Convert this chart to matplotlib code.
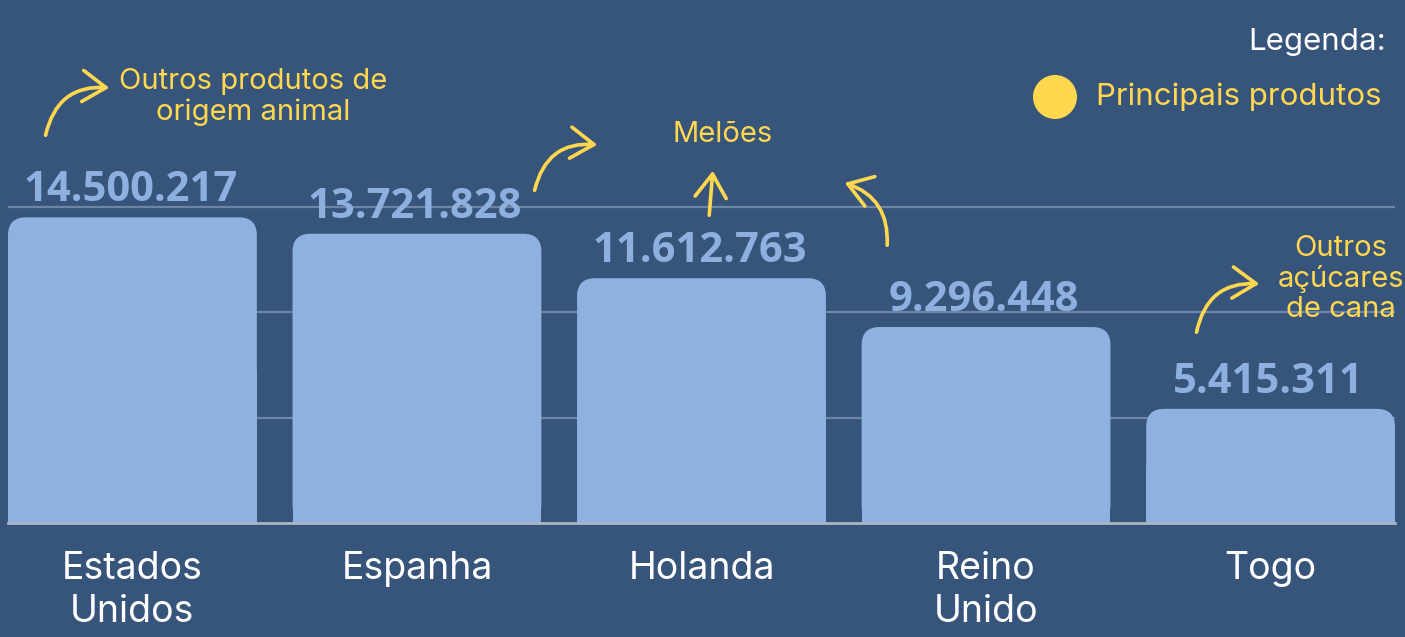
import matplotlib.pyplot as plt
from matplotlib.patches import FancyBboxPatch, Rectangle, FancyArrowPatch, Circle

# data
paises = ['Estados\nUnidos', 'Espanha', 'Holanda', 'Reino\nUnido', 'Togo']
valores = [14500217, 13721828, 11612763, 9296448, 5415311]
rotulos = ['14.500.217', '13.721.828', '11.612.763', '9.296.448', '5.415.311']
grade = [5e6, 10e6, 15e6]

BG = '#37547b'
BAR = '#8fb1df'
YEL = '#ffd84f'

W, H = 1405, 637
fig = plt.figure(figsize=(W / 100, H / 100), dpi=100, facecolor=BG)

# main axes in pixel placement
left, right, base = 8, 1395, 523
ax = fig.add_axes([left / W, (H - base) / H, (right - left) / W, base / H])
ax.set_facecolor(BG)
px_per_unit = 21.08e-6
ax.set_xlim(-0.4372, 4.4372)
ax.set_ylim(0, base / px_per_unit)
for s in ax.spines.values():
    s.set_visible(False)
ax.set_xticks([])
ax.set_yticks([])

for g in grade:
    ax.axhline(g, color='#6e86a6', lw=1.6, zorder=0)
ax.axhline(0, color='#aab6c6', lw=2, zorder=3, clip_on=False)

bars = ax.bar(range(len(valores)), valores, width=0.8745, color=BAR, zorder=2)
# rounded top corners
x_px = (right - left) / 4.8744
r_px = 18
for b in bars:
    b.set_visible(False)
    x0, w, h = b.get_x(), b.get_width(), b.get_height()
    rx = r_px / x_px
    ry = r_px / px_per_unit
    p = FancyBboxPatch((x0, 0), w, h, boxstyle=f'round,pad=0,rounding_size={rx}',
                       mutation_aspect=ry / rx, fc=BAR, ec='none', zorder=2)
    ax.add_patch(p)
    ax.add_patch(Rectangle((x0, 0), w, h / 2, fc=BAR, ec='none', zorder=2))

for i, (v, t) in enumerate(zip(valores, rotulos)):
    ax.annotate(t, (i, v), xytext=(-2, 6), textcoords='offset pixels',
                ha='center', va='bottom', fontsize=30, fontweight='bold',
                family='Open Sans', color='#8db0de')

for i, p in enumerate(paises):
    ax.text(i, -1.35e6, p, ha='center', va='top', fontsize=27, color='white',
            family='Inter', linespacing=1.22, clip_on=False)

# overlay in pixel coordinates for notes
ov = fig.add_axes([0, 0, 1, 1], facecolor='none')
ov.set_xlim(0, W)
ov.set_ylim(H, 0)
ov.axis('off')

ov.text(1386, 42, 'Legenda:', ha='right', va='center', fontsize=22.5,
        color='white', family='Inter')
ov.add_patch(Circle((1055, 97), 22, fc=YEL, ec='none'))
ov.text(1382, 97, 'Principais produtos', ha='right', va='center', fontsize=22.5,
        color=YEL, family='Inter')

ov.text(253, 97, 'Outros produtos de\norigem animal', ha='center', va='center',
        fontsize=21, color=YEL, family='Inter', linespacing=1.18)
ov.text(723, 134, 'Melões', ha='center', va='center', fontsize=21,
        color=YEL, family='Inter')
ov.text(1341, 279, 'Outros\naçúcares\nde cana', ha='center', va='center',
        fontsize=21, color=YEL, family='Inter', linespacing=1.15)

setas = [((45, 138), (112, 88), -0.45),
         ((534, 193), (600, 145), -0.45),
         ((709, 218), (713, 168), 0.0),
         ((887, 248), (842, 182), 0.4),
         ((1196, 335), (1262, 284), -0.45)]
for a, b, rad in setas:
    ov.add_patch(FancyArrowPatch(a, b, connectionstyle=f'arc3,rad={rad}',
                                 arrowstyle='->,head_length=0.6,head_width=0.4',
                                 mutation_scale=28, color=YEL, lw=2.6,
                                 capstyle='round', joinstyle='round'))

fig.savefig('out.png', dpi=100, facecolor=BG)
